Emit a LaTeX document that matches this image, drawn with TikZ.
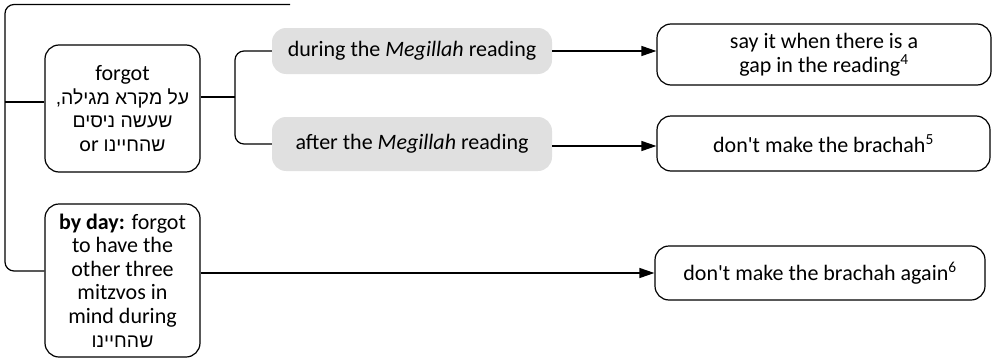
\documentclass[tikz,border=0pt]{standalone}
\usepackage{fontspec}
\setmainfont{Carlito}
\newfontfamily\heb[Script=Hebrew,Scale=0.88]{Liberation Sans}
\TeXXeTstate=1
\usetikzlibrary{arrows.meta}
\begin{document}
\begin{tikzpicture}[x=1pt,y=-1pt,
  every node/.style={font=\fontsize{22}{23.6}\selectfont, inner sep=0pt, align=center},
  whitebox/.style={draw, line width=1.2pt, rounded corners=14pt, fill=white},
  graybox/.style={fill={rgb,255:red,224;green,224;blue,224}, rounded corners=14pt},
  conn/.style={line width=1.2pt, rounded corners=9pt},
  arr/.style={line width=1.2pt, -{Triangle[length=15pt,width=10pt]}}
]
\useasboundingbox (0,0) rectangle (993,364);
% nodes
\node[whitebox, minimum width=155pt, minimum height=127pt] (forgot) at (122.5,108.5)
  {forgot\\ {\heb\beginR על מקרא מגילה,\endR}\\ {\heb\beginR שעשה ניסים\endR}\\ or {\heb\beginR שהחיינו\endR}};
\node[whitebox, minimum width=155pt, minimum height=153pt] (byday) at (122.5,280.5)
  {\textbf{by day:} forgot\\ to have the\\ other three\\ mitzvos in\\ mind during\\ {\heb\beginR שהחיינו\endR}};
\node[graybox, minimum width=280pt, minimum height=46pt] (during) at (412,51) {during the \textit{Megillah} reading};
\node[graybox, minimum width=280pt, minimum height=54pt] (after) at (412,144) {after the \textit{Megillah} reading};
\node[whitebox, minimum width=334pt, minimum height=61pt] (say) at (824,54.5) {say it when there is a\\ gap in the reading\textsuperscript{4}};
\node[whitebox, minimum width=333pt, minimum height=55pt] (dont) at (823.5,143.5) {don\textquotesingle t make the brachah\textsuperscript{5}};
\node[whitebox, minimum width=330pt, minimum height=54pt] (again) at (820,273) {don\textquotesingle t make the brachah again\textsuperscript{6}};
\coordinate (topend) at (290,4.5);
\coordinate (spine) at (5,102);
\coordinate (fork) at (235,97);
% connectors
\draw[conn] (topend) -- (5,4.5) -- (5,271) -- ([yshift=9.5pt]byday.west);
\draw[conn] (spine) -- ([yshift=6.5pt]forgot.west);
\draw[conn] ([yshift=11.5pt]forgot.east) -- (fork);
\draw[conn] (during.west) -- (235,51) -- (235,144) -- (after.west);
\draw[arr] (during.east) -- (during.east -| say.west);
\draw[arr] ([yshift=-2pt]after.east) -- ([yshift=-2pt]after.east -| dont.west);
\draw[arr] ([yshift=7.5pt]byday.east) -- ([yshift=7.5pt]byday.east -| again.west);
\end{tikzpicture}
\end{document}
